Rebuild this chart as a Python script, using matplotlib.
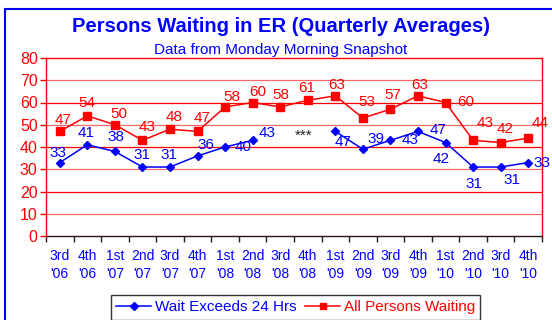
import numpy as np
import matplotlib
matplotlib.use("Agg")
import matplotlib.pyplot as plt
from matplotlib.lines import Line2D
from matplotlib.patches import Rectangle

plt.rcParams["font.family"] = ["Liberation Sans", "DejaVu Sans"]

BLUE = "#0000FF"
RED = "#FF0000"

quarters = ["3rd\n'06", "4th\n'06", "1st\n'07", "2nd\n'07", "3rd\n'07", "4th\n'07",
            "1st\n'08", "2nd\n'08", "3rd\n'08", "4th\n'08", "1st\n'09", "2nd\n'09",
            "3rd\n'09", "4th\n'09", "1st\n'10", "2nd\n'10", "3rd\n'10", "4th\n'10"]
wait_24h = [33, 41, 38, 31, 31, 36, 40, 43, np.nan, np.nan,
            47, 39, 43, 47, 42, 31, 31, 33]
all_waiting = [47, 54, 50, 43, 48, 47, 58, 60, 58, 61,
               63, 53, 57, 63, 60, 43, 42, 44]

# label offsets in pixels (dx, dy) so the numbers don't collide with the lines
red_off = [(3, 11), (0, 13), (4, 11), (5, 13), (4, 12), (5, 13), (7, 10), (5, 10),
           (1, 12), (-1, 12), (1, 11), (4, 16), (2, 14), (2, 11), (20, 0), (12, 17),
           (4, 14), (12, 15)]
blue_off = [(-2, 10), (-1, 12), (1, 14), (0, 12), (-1, 12), (8, 11), (18, 0), (14, 7),
            None, None, (8, -11), (13, 10), (20, 0), (20, 1), (-4, -16), (1, -17),
            (11, -13), (14, 0)]

fig = plt.figure(figsize=(5.52, 3.2), dpi=100)
fig.patch.set_facecolor("white")
ax = fig.add_axes([46 / 552, 1 - 236 / 320, 496 / 552, 178 / 320])

x = np.arange(len(quarters))

# horizontal grid, alternating shade
for g in range(10, 80, 10):
    ax.axhline(g, color=RED if g % 20 == 0 else "#F46A6A", lw=0.9, zorder=1)

ax.plot(x, all_waiting, color=RED, lw=1.1, marker="s", ms=5.2, zorder=3)
ax.plot(x, wait_24h, color=BLUE, lw=1.1, marker="D", ms=4.4, zorder=3)

for xi, v, off in zip(x, all_waiting, red_off):
    ax.annotate(f"{v}", (xi, v), xytext=off, textcoords="offset pixels",
                ha="center", va="center", color=RED, fontsize=11, zorder=4,
                annotation_clip=False)
for xi, v, off in zip(x, wait_24h, blue_off):
    if off is None:
        continue
    ax.annotate(f"{v:.0f}", (xi, v), xytext=off, textcoords="offset pixels",
                ha="center", va="center", color=BLUE, fontsize=11, zorder=4,
                annotation_clip=False)

ax.annotate("***", (9, 45), xytext=(-4, 0), textcoords="offset pixels",
            ha="center", va="center", color="#202020", fontsize=11)

ax.set_xlim(-0.5, len(quarters) - 0.5)
ax.set_ylim(0, 80)
ax.set_yticks(range(0, 81, 10))
ax.tick_params(axis="y", colors=RED, labelsize=11.5, length=4, width=1, pad=2)
ax.set_xticks(x)
ax.set_xticklabels(quarters, color=BLUE, fontsize=10, linespacing=1.45)
ax.tick_params(axis="x", length=0, pad=9)
ax.set_xticks(np.arange(-0.5, len(quarters), 1), minor=True)
ax.tick_params(axis="x", which="minor", length=4, width=1, color="#202020")

for side in ["left", "right", "top"]:
    ax.spines[side].set_color(RED)
    ax.spines[side].set_linewidth(1)
ax.spines["bottom"].set_color("#301010")
ax.spines["bottom"].set_linewidth(1)

fig.text(281 / 552, 1 - 27 / 320, "Persons Waiting in ER (Quarterly Averages)",
         ha="center", va="center", color=BLUE, fontsize=14.5, fontweight="bold")
fig.text(281 / 552, 1 - 50 / 320, "Data from Monday Morning Snapshot",
         ha="center", va="center", color=BLUE, fontsize=11)

handles = [Line2D([], [], color=BLUE, lw=1.1, marker="D", ms=4),
           Line2D([], [], color=RED, lw=1.1, marker="s", ms=4.8)]
leg = fig.legend(handles, ["Wait Exceeds 24 Hrs", "All Persons Waiting"],
                 loc="upper left", bbox_to_anchor=(111 / 552, 1 - 295 / 320),
                 ncol=2, fontsize=11, frameon=True, fancybox=False,
                 handlelength=2.3, handletextpad=0.2, columnspacing=0.6,
                 borderpad=0.35, borderaxespad=0)
leg.get_frame().set_edgecolor("black")
leg.get_frame().set_linewidth(1)
for t, c in zip(leg.get_texts(), [BLUE, RED]):
    t.set_color(c)

# outer chart border
fig.patches.append(Rectangle((5 / 552, -0.1), 1.2, 1.1 - 9 / 320, transform=fig.transFigure,
                             fill=False, edgecolor=BLUE, lw=1.5))

fig.savefig("out.png", dpi=100)
